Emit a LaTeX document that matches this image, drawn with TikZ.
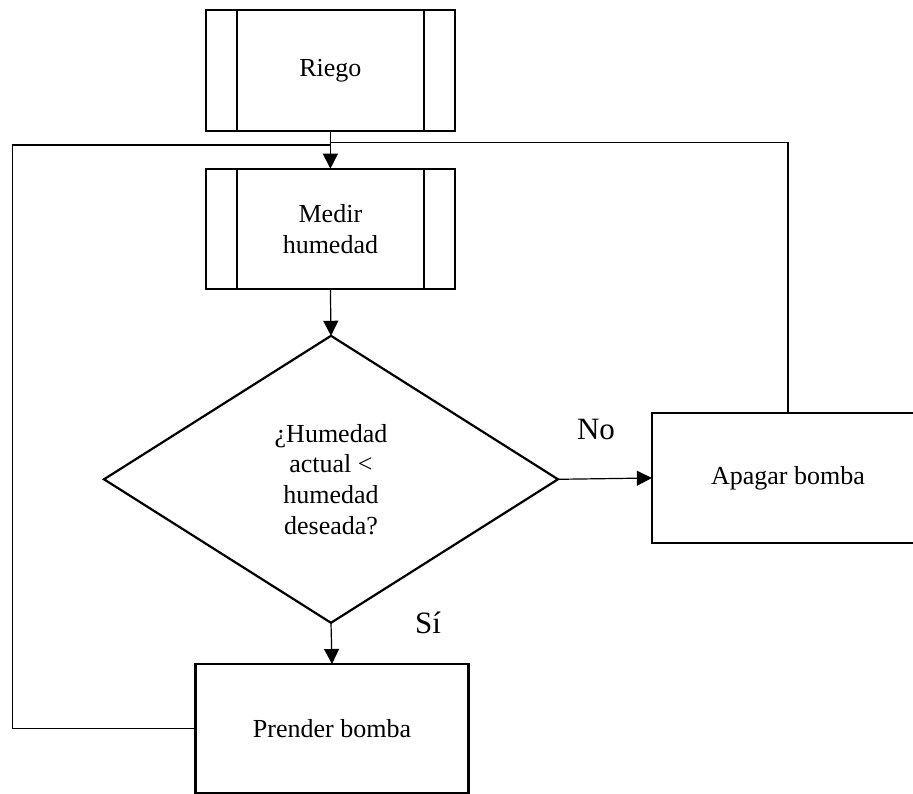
\documentclass[tikz,border=0pt]{standalone}
\usepackage{fontspec}
\setmainfont{Liberation Serif}
\usetikzlibrary{shapes.geometric,arrows.meta}
\begin{document}
\begin{tikzpicture}[x=1pt,y=-1pt,
  box/.style={draw,line width=2.2pt,rectangle,inner sep=0pt,outer sep=0pt,align=center,
     font=\fontsize{26}{30.7}\selectfont},
  decision/.style={draw,line width=2.2pt,diamond,inner sep=0pt,outer sep=0pt,align=center,
     minimum width=454pt,minimum height=287pt,font=\fontsize{26}{30.7}\selectfont},
  conn/.style={line width=1.2pt},
  arr/.style={conn,-{Triangle[length=15pt,width=15pt]}},
  lbl/.style={font=\fontsize{31}{36}\selectfont,inner sep=0pt}]
\useasboundingbox (0,0) rectangle (913,794);
\clip (0,0) rectangle (913,794);
% nodes
\node[box,minimum width=249.3pt,minimum height=120.4pt] (R) at (330.4,70.5) {Riego};
\node[box,minimum width=249.3pt,minimum height=120.3pt] (M) at (330.4,228.8) {Medir\\humedad};
\node[decision] (D) at (331,479.3) {¿Humedad\\actual <\\humedad\\deseada?};
\node[box,minimum width=272.3pt,minimum height=130pt] (A) at (788,478) {Apagar bomba};
\node[box,minimum width=273pt,minimum height=128.7pt] (P) at (332,728.3) {Prender bomba};
% predefined-process side bars
\foreach \n in {R,M}{
  \draw[line width=2.2pt] ([xshift=31.6pt]\n.north west) -- ([xshift=31.6pt]\n.south west);
  \draw[line width=2.2pt] ([xshift=-31.3pt]\n.north east) -- ([xshift=-31.3pt]\n.south east);
}
% labels
\node[lbl] (no) at (596,430) {No};
\node[lbl] (si) at (428,623) {Sí};
% junction coordinates
\coordinate (lt) at (12.3,145);
\coordinate (jl) at (330.4,145);
\coordinate (jr) at (330.4,142.5);
% connectors
\draw[arr] (R.south) -- (M.north);
\draw[arr] (M.south) -- (D.north);
\draw[arr] (D.east) -- (A.west);
\draw[arr] (D.south) -- (P.north);
\draw[conn] (P.west) -- (P.west -| lt) -- (lt) -- (jl);
\draw[conn] (A.north) |- (jr);
\end{tikzpicture}
\end{document}
